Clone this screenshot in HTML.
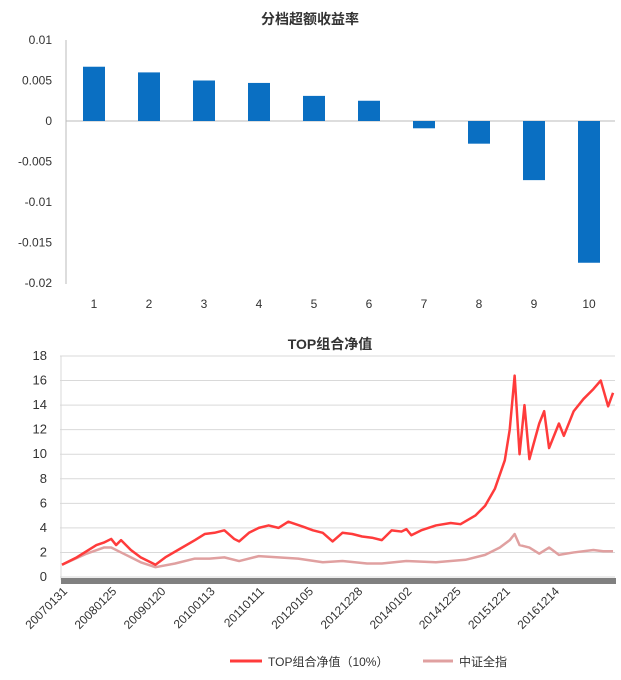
<!DOCTYPE html>
<html><head><meta charset="utf-8"><style>
body{margin:0;background:#fff;font-family:"Liberation Sans","Noto Sans CJK SC",sans-serif;}
svg text{font-family:"Liberation Sans","Noto Sans CJK SC",sans-serif;}
</style></head><body>
<svg id="c" width="621" height="675"></svg>
<script>
const barCats=["1","2","3","4","5","6","7","8","9","10"];
const barVals=[0.0067,0.006,0.005,0.0047,0.0031,0.0025,-0.0009,-0.0028,-0.0073,-0.0175];
const barTicks=[0.01,0.005,0,-0.005,-0.01,-0.015,-0.02];
const barTickLabels=["0.01","0.005","0","-0.005","-0.01","-0.015","-0.02"];
const navTicks=[0,2,4,6,8,10,12,14,16,18];
const dateLabels=["20070131","20080125","20090120","20100113","20110111","20120105","20121228","20140102","20141225","20151221","20161214"];
const redT=[0,.3,.5,.7,.85,1.0,1.1,1.2,1.4,1.6,1.8,1.9,2.1,2.4,2.7,2.9,3.1,3.3,3.5,3.6,3.8,4.0,4.2,4.4,4.6,4.9,5.1,5.3,5.5,5.7,5.9,6.1,6.3,6.5,6.7,6.9,7.0,7.1,7.3,7.6,7.9,8.1,8.4,8.6,8.8,9.0,9.1,9.2,9.3,9.4,9.5,9.7,9.8,9.9,10.1,10.2,10.4,10.6,10.8,10.95,11.1,11.2];
const redV=[1.0,1.6,2.1,2.6,2.8,3.1,2.6,3.0,2.2,1.6,1.2,1.0,1.6,2.3,3.0,3.5,3.6,3.8,3.1,2.9,3.6,4.0,4.2,4.0,4.5,4.1,3.8,3.6,2.9,3.6,3.5,3.3,3.2,3.0,3.8,3.7,3.9,3.4,3.8,4.2,4.4,4.3,5.0,5.8,7.2,9.5,12.0,16.4,10.0,14.0,9.6,12.5,13.5,10.5,12.5,11.5,13.5,14.5,15.3,16.0,13.9,15.0];
const grayT=[0,.5,.85,1.0,1.2,1.6,1.9,2.3,2.7,3.0,3.3,3.6,4.0,4.4,4.8,5.3,5.7,6.2,6.5,7.0,7.6,8.2,8.6,8.9,9.1,9.2,9.3,9.5,9.7,9.9,10.1,10.4,10.8,11.0,11.2];
const grayV=[1.0,1.9,2.4,2.4,2.0,1.2,0.8,1.1,1.5,1.5,1.6,1.3,1.7,1.6,1.5,1.2,1.3,1.1,1.1,1.3,1.2,1.4,1.8,2.4,3.0,3.5,2.6,2.4,1.9,2.4,1.8,2.0,2.2,2.1,2.1];

const S=document.getElementById('c'),NS='http://www.w3.org/2000/svg';
function mk(t,a,p){const e=document.createElementNS(NS,t);for(const k in a)e.setAttribute(k,a[k]);(p||S).appendChild(e);return e;}
function tx(x,y,s,a){const e=mk('text',Object.assign({x:x,y:y,'font-size':12,fill:'#333'},a||{}));e.textContent=s;return e;}

// top chart
const y1=v=>121-v*8100, x1=i=>94+i*55;
let t=tx(310,24,'分档超额收益率',{'text-anchor':'middle','font-size':14,'font-weight':'bold'});


let ax=mk('line',{x1:66,y1:40,x2:66,y2:284,stroke:'#bbb'});


let zl=mk('line',{x1:66,y1:y1(0),x2:615,y2:y1(0),stroke:'#bbb'});


barTicks.forEach((v,i)=>{const e=tx(52,y1(v)+4,barTickLabels[i],{'text-anchor':'end'});

});
barVals.forEach((v,i)=>{const r=mk('rect',{x:x1(i)-11,y:Math.min(y1(v),y1(0)),width:22,height:Math.abs(y1(v)-y1(0)),fill:'#0a6fc2'});


const l=tx(x1(i),308,barCats[i],{'text-anchor':'middle'});

});

// bottom chart
const y2=v=>577-v*12.28, x2=tt=>62+tt*49.2;
t=tx(330,349,'TOP组合净值',{'text-anchor':'middle','font-size':14,'font-weight':'bold'});


navTicks.forEach(v=>{const g=mk('line',{x1:60,y1:y2(v),x2:615,y2:y2(v),stroke:'#d9d9d9'});


const e=tx(47,y2(v)+4,String(v),{'text-anchor':'end','font-size':13});

});
ax=mk('line',{x1:61,y1:356,x2:61,y2:580,stroke:'#d9d9d9'});


let band=mk('rect',{x:61,y:578,width:555,height:6,fill:'#808080'});


dateLabels.forEach((d,i)=>{const xx=x2(i)+6;const e=tx(xx,592,d,{'text-anchor':'end','font-size':12,transform:'rotate(-45 '+xx+' 592)'});

});
function line(T,V,col,w,name){const p=mk('polyline',{points:T.map((tt,i)=>x2(tt)+','+y2(V[i])).join(' '),fill:'none',stroke:col,'stroke-width':w,'stroke-linejoin':'round'});

}
line(grayT,grayV,'#e0a0a0',2.5,'csi-all-line');
line(redT,redV,'#ff3b3b',2.5,'top-portfolio-line');

// legend
let l1=mk('line',{x1:230,y1:661,x2:262,y2:661,stroke:'#ff3b3b','stroke-width':3});


t=tx(268,666,'TOP组合净值（10%）',{'font-size':12});


let l2=mk('line',{x1:423,y1:661,x2:453,y2:661,stroke:'#e0a0a0','stroke-width':3});


t=tx(459,666,'中证全指',{'font-size':12});


</script>
</body></html>
